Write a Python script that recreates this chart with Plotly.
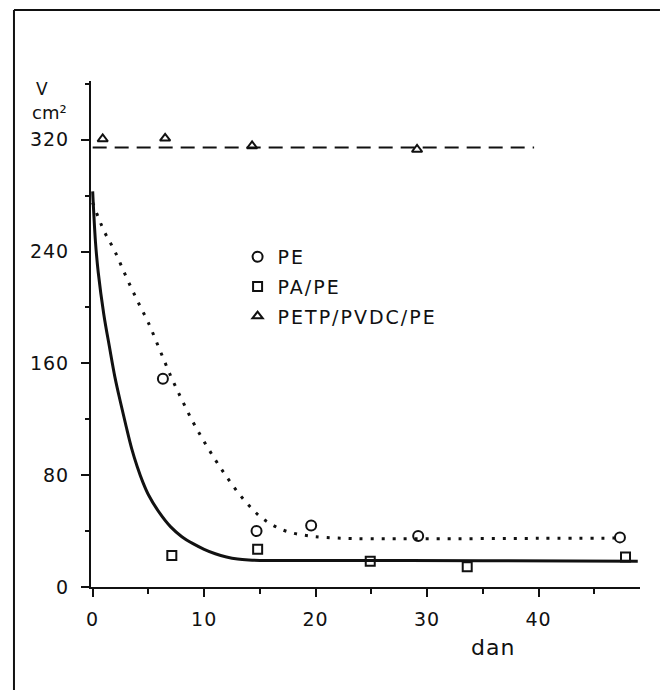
import plotly.graph_objects as go

# ---- data ----
pe_x = [6.3, 14.7, 19.6, 29.2, 47.3]
pe_y = [149, 40, 44, 36.5, 35.5]

pa_x = [7.1, 14.8, 24.9, 33.6, 47.8]
pa_y = [22.5, 27, 18.5, 14.5, 21.5]

petp_x = [0.9, 6.5, 14.3, 29.1]
petp_y = [320.5, 321, 315.5, 313]

# fitted curves
pe_fit_x = [0, 1, 2, 3, 4, 5, 6, 7, 8, 9, 10, 11, 12, 13, 14, 15, 16, 17, 18, 19, 20, 22, 25, 30, 40, 47.3]
pe_fit_y = [275, 255, 240, 222, 205, 189, 170, 151, 134, 118, 104, 91, 79, 68, 58.5, 50.5, 45, 41, 38.5, 37, 36, 35, 34.5, 34.5, 34.8, 35]

pa_fit_x = [0, 0.25, 0.5, 1, 1.5, 2, 2.5, 3, 3.5, 4, 4.5, 5, 6, 7, 8, 9, 10, 11, 12, 13, 14, 15, 25, 35, 48.9]
pa_fit_y = [283, 247, 225, 195, 172, 150, 132, 115, 99, 86, 75, 66, 53, 43, 36, 31, 27, 23.8, 21.5, 20, 19.3, 19, 19, 18.8, 18.5]

petp_fit_x = [0, 39.6]
petp_fit_y = [314.5, 314.5]

x_ticks = [0, 10, 20, 30, 40]
y_ticks = [0, 80, 160, 240, 320]

FONT = "DejaVu Sans"
INK = "#111111"


def spaced(s, px):
    return '<span style="letter-spacing:%spx">%s</span>' % (px, s)


fig = go.Figure()

# fitted lines
fig.add_trace(go.Scatter(x=pe_fit_x, y=pe_fit_y, mode="lines", line_shape="spline",
                         line=dict(color=INK, width=3, dash="3px,8px"), showlegend=False,
                         hoverinfo="skip"))
fig.add_trace(go.Scatter(x=pa_fit_x, y=pa_fit_y, mode="lines", line_shape="spline",
                         line=dict(color=INK, width=3, smoothing=1.0), showlegend=False, hoverinfo="skip"))
fig.add_trace(go.Scatter(x=petp_fit_x, y=petp_fit_y, mode="lines",
                         line=dict(color=INK, width=2, dash="14px,8px"), showlegend=False,
                         hoverinfo="skip"))

# measured points
fig.add_trace(go.Scatter(x=pe_x, y=pe_y, mode="markers", name=spaced("PE", 2), legendgroup="a",
                         marker=dict(symbol="circle-open", size=10, color=INK, line=dict(width=2, color=INK))))
fig.add_trace(go.Scatter(x=pa_x, y=pa_y, mode="markers", name=spaced("PA/PE", 2), legendgroup="b",
                         marker=dict(symbol="square-open", size=9, color=INK, line=dict(width=2, color=INK))))
fig.add_trace(go.Scatter(x=petp_x, y=petp_y, mode="markers", name=spaced("PETP/PVDC/PE", 2), legendgroup="c",
                         marker=dict(symbol="triangle-up-open", size=9, color=INK, line=dict(width=2, color=INK))))

axis_common = dict(showgrid=False, zeroline=False, showline=True, linecolor=INK, linewidth=2,
                   ticks="outside", ticklen=8, tickwidth=2, tickcolor=INK,
                   tickfont=dict(family=FONT, size=19, color=INK))

fig.update_xaxes(range=[-0.15, 49.1], tickvals=x_ticks, ticktext=[spaced(str(v), 1) for v in x_ticks],
                 minor=dict(dtick=5, tick0=5, ticklen=5, tickwidth=2, tickcolor=INK, ticks="outside"),
                 ticklabelstandoff=6, **axis_common)
fig.update_yaxes(range=[0, 362], tickvals=y_ticks, ticktext=[spaced(str(v), 1) for v in y_ticks],
                 minor=dict(dtick=40, tick0=40, ticklen=4, tickwidth=2, tickcolor=INK, ticks="outside"),
                 ticklabelstandoff=8, **axis_common)

fig.update_layout(
    width=660, height=690,
    margin=dict(l=91, r=20, t=81, b=103),
    paper_bgcolor="white", plot_bgcolor="white",
    font=dict(family=FONT, color=INK),
    legend=dict(x=0.267, y=0.69, xanchor="left", yanchor="top",
                font=dict(family=FONT, size=19, color=INK),
                bgcolor="rgba(0,0,0,0)", tracegroupgap=2, traceorder="grouped"),
    annotations=[
        dict(text="V", x=-0.0893, y=0.984, xref="paper", yref="paper", showarrow=False,
             xanchor="center", yanchor="middle", font=dict(family=FONT, size=17, color=INK)),
        dict(text="cm²", x=-0.0747, y=0.9387, xref="paper", yref="paper", showarrow=False,
             xanchor="center", yanchor="middle", font=dict(family=FONT, size=18, color=INK)),
        dict(text=spaced("dan", 1), x=0.732, y=-0.1186, xref="paper", yref="paper", showarrow=False,
             xanchor="center", yanchor="middle", font=dict(family=FONT, size=22, color=INK)),
    ],
    shapes=[
        dict(type="line", xref="paper", yref="paper", x0=-0.1403, x1=1.0364, y0=1.1403, y1=1.1403,
             line=dict(color=INK, width=2)),
        dict(type="line", xref="paper", yref="paper", x0=-0.1403, x1=-0.1403, y0=1.1403, y1=-0.2036,
             line=dict(color=INK, width=2)),
    ],
)

fig.write_html("out.html")
